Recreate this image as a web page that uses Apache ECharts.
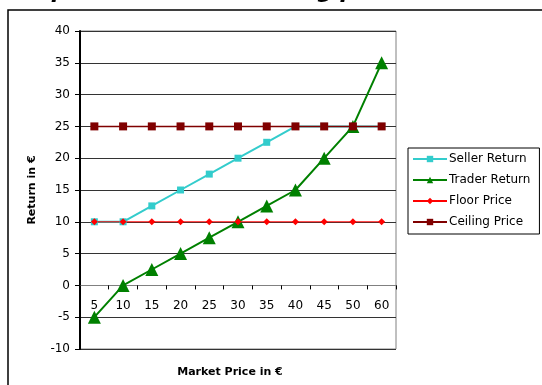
<!DOCTYPE html>
<html>
<head>
<meta charset="utf-8">
<script src="https://cdn.jsdelivr.net/npm/echarts@6/dist/echarts.min.js"></script>
<style>
  html, body { margin: 0; padding: 0; background: #fff; }
  #chart { width: 542px; height: 385px; }
</style>
</head>
<body>
<div id="chart"></div>
<script>
// Market price categories (€)
const marketPrices = ['5', '10', '15', '20', '25', '30', '35', '40', '45', '50', '60'];
// Returns (€) at each market price
const sellerReturn = [10, 10, 12.5, 15, 17.5, 20, 22.5, 25, 25, 25, 25];
const traderReturn = [-5, 0, 2.5, 5, 7.5, 10, 12.5, 15, 20, 25, 35];
const floorPrice   = [10, 10, 10, 10, 10, 10, 10, 10, 10, 10, 10];
const ceilingPrice = [25, 25, 25, 25, 25, 25, 25, 25, 25, 25, 25];

const FONT = '"DejaVu Sans", Verdana, sans-serif';

// plot box geometry; the category axis sits on the zero line
const GRID = { left: 80, right: 146, top: 31, bottom: 36 };
const Y_MIN = -10, Y_MAX = 40;
const plotH = 385 - GRID.top - GRID.bottom;
const zeroOffset = -plotH * (0 - Y_MIN) / (Y_MAX - Y_MIN);

const chart = echarts.init(document.getElementById('chart'), null, { renderer: 'canvas' });

chart.setOption({
  animation: false,
  backgroundColor: '#fff',
  textStyle: { fontFamily: FONT },
  grid: Object.assign({
    show: true, borderColor: '#808080', borderWidth: 1, backgroundColor: 'transparent'
  }, GRID),
  graphic: [
    {
      type: 'rect', shape: { x: 8, y: 10, width: 540, height: 380 },
      style: { fill: 'none', stroke: '#000', lineWidth: 1.5 }, z: 0
    },
    {
      type: 'text', left: 8, top: -19,
      style: {
        text: 'Graph 1: Floor and Ceiling price',
        font: 'italic bold 22px ' + FONT, fill: '#000'
      }
    },
    {
      type: 'text', x: 230, y: 372,
      style: {
        text: 'Market Price in €', font: 'bold 11px ' + FONT, fill: '#000',
        align: 'center', verticalAlign: 'middle'
      }
    }
  ],
  legend: {
    orient: 'vertical', left: 408, top: 148,
    borderColor: '#000', borderWidth: 1, borderRadius: 0,
    padding: [4, 9, 5, 4], itemGap: 7,
    itemWidth: 34, itemHeight: 8,
    textStyle: { fontSize: 12, color: '#000', fontFamily: FONT, lineHeight: 14,
                 padding: [0, 0, 0, -3] },
    data: ['Seller Return', 'Trader Return', 'Floor Price', 'Ceiling Price']
  },
  xAxis: {
    type: 'category', data: marketPrices, boundaryGap: true,
    offset: zeroOffset,
    axisLine: { onZero: false, lineStyle: { color: '#808080', width: 1 } },
    axisTick: { show: true, inside: false, length: 4, lineStyle: { color: '#000' } },
    axisLabel: { color: '#000', fontSize: 12, margin: 14, fontFamily: FONT },
    splitLine: { show: false }
  },
  yAxis: {
    type: 'value', min: Y_MIN, max: Y_MAX, interval: 5,
    name: 'Return in €', nameLocation: 'middle', nameGap: 42, nameRotate: 90,
    nameTextStyle: { fontWeight: 'bold', fontSize: 11, color: '#000', fontFamily: FONT },
    axisLine: { show: true, lineStyle: { color: '#000', width: 2 } },
    axisTick: { show: true, length: 5, lineStyle: { color: '#000' } },
    axisLabel: { color: '#000', fontSize: 12, margin: 10, fontFamily: FONT },
    splitLine: { show: true, lineStyle: { color: '#333', width: 1 } }
  },
  series: [
    {
      name: 'Seller Return', type: 'line', data: sellerReturn,
      symbol: 'rect', symbolSize: 7,
      lineStyle: { color: '#33CCCC', width: 2 },
      itemStyle: { color: '#33CCCC' }
    },
    {
      name: 'Trader Return', type: 'line', data: traderReturn,
      symbol: 'triangle', symbolSize: 13,
      lineStyle: { color: '#008000', width: 2 },
      itemStyle: { color: '#008000' }
    },
    {
      name: 'Floor Price', type: 'line', data: floorPrice,
      symbol: 'diamond', symbolSize: 7,
      lineStyle: { color: '#FF0000', width: 1 },
      itemStyle: { color: '#FF0000' }
    },
    {
      name: 'Ceiling Price', type: 'line', data: ceilingPrice,
      symbol: 'rect', symbolSize: 8,
      lineStyle: { color: '#800000', width: 1.5 },
      itemStyle: { color: '#800000' }
    }
  ]
});
</script>
</body>
</html>
